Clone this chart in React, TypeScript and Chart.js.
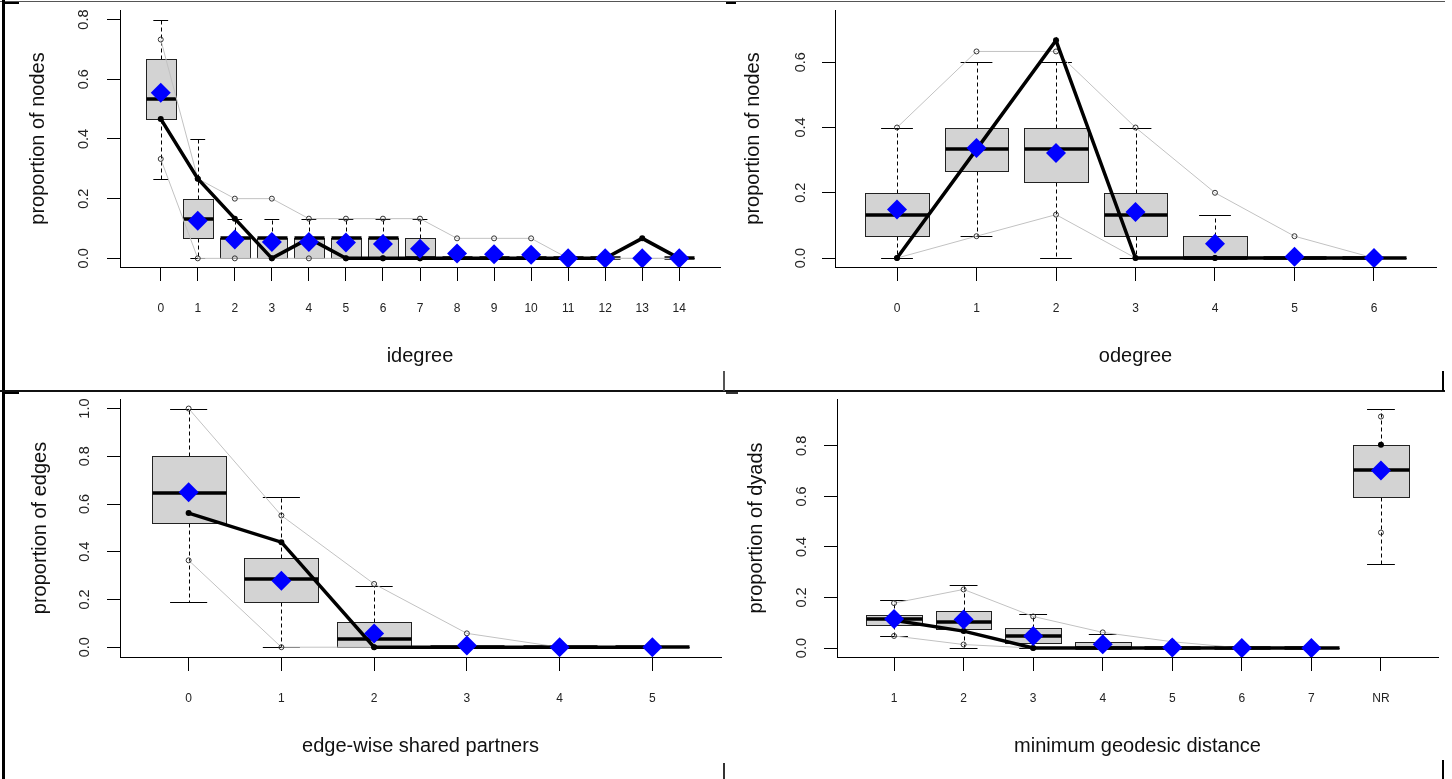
import React, { useEffect, useRef } from 'react';
import { Chart, registerables } from 'chart.js';

Chart.register(...registerables);

const FONT = '"Liberation Sans", Arial, Helvetica, sans-serif';
Chart.defaults.font.family = FONT;

// ---------- idegree ----------
const idegLabels = ['0', '1', '2', '3', '4', '5', '6', '7', '8', '9', '10', '11', '12', '13', '14'];
const idegWhiskerLow = [0.267, 0, 0, 0, 0, 0, 0, 0, 0, 0, 0, 0, 0, 0, 0];
const idegQ1 = [0.467, 0.067, 0, 0, 0, 0, 0, 0, 0, 0, 0, 0, 0, 0, 0];
const idegMedian = [0.533, 0.133, 0.067, 0.067, 0.067, 0.067, 0.067, 0, 0, 0, 0, 0, 0, null, 0];
const idegQ3 = [0.667, 0.2, 0.067, 0.067, 0.067, 0.067, 0.067, 0.067, 0, 0, 0, 0, 0, 0, 0];
const idegWhiskerHigh = [0.8, 0.4, 0.133, 0.133, 0.133, 0.133, 0.133, 0.133, 0, 0, 0, 0, 0, 0, 0];
const idegMean = [0.555, 0.126, 0.063, 0.055, 0.055, 0.053, 0.048, 0.032, 0.016, 0.014, 0.012, 0, 0, 0, 0];
const idegObserved = [0.467, 0.267, 0.133, 0, 0.067, 0, 0, 0, 0, 0, 0, 0, 0, 0.067, 0];
const idegSimHigh = [0.733, 0.267, 0.2, 0.2, 0.133, 0.133, 0.133, 0.133, 0.067, 0.067, 0.067, 0, 0, 0, 0];
const idegSimLow = [0.333, 0, 0, 0, 0, 0, 0, 0, 0, 0, 0, 0, 0, 0, 0];
const idegYTicks = [0, 0.2, 0.4, 0.6, 0.8];

// ---------- odegree ----------
const odegLabels = ['0', '1', '2', '3', '4', '5', '6'];
const odegWhiskerLow = [0, 0.067, 0, 0, 0, 0, 0];
const odegQ1 = [0.067, 0.267, 0.233, 0.067, 0, 0, 0];
const odegMedian = [0.133, 0.333, 0.333, 0.133, 0, 0, 0];
const odegQ3 = [0.2, 0.4, 0.4, 0.2, 0.067, 0, 0];
const odegWhiskerHigh = [0.4, 0.6, 0.6, 0.4, 0.133, 0, 0];
const odegMean = [0.149, 0.337, 0.322, 0.141, 0.044, 0.004, 0];
const odegObserved = [0, 0.333, 0.667, 0, 0, 0, 0];
const odegSimHigh = [0.4, 0.633, 0.633, 0.4, 0.2, 0.067, 0];
const odegSimLow = [0, 0.067, 0.133, 0, 0, 0, 0];
const odegYTicks = [0, 0.2, 0.4, 0.6];

// ---------- edge-wise shared partners ----------
const espLabels = ['0', '1', '2', '3', '4', '5'];
const espWhiskerLow = [0.189, 0, 0, 0, 0, 0];
const espQ1 = [0.519, 0.19, 0, 0, 0, 0];
const espMedian = [0.646, 0.287, 0.036, 0, 0, 0];
const espQ3 = [0.8, 0.373, 0.105, 0, 0, 0];
const espWhiskerHigh = [1.0, 0.63, 0.256, 0, 0, 0];
const espMean = [0.649, 0.279, 0.057, 0.007, 0, 0];
const espObserved = [0.562, 0.44, 0, 0, 0, 0];
const espSimHigh = [1.0, 0.552, 0.265, 0.058, 0, 0];
const espSimLow = [0.364, 0, 0, 0, 0, 0];
const espYTicks = [0, 0.2, 0.4, 0.6, 0.8, 1.0];

// ---------- minimum geodesic distance ----------
const distLabels = ['1', '2', '3', '4', '5', '6', '7', 'NR'];
const distWhiskerLow = [0.048, 0, 0, 0, 0, 0, 0, 0.334];
const distQ1 = [0.093, 0.074, 0.019, 0, 0, 0, 0, 0.597];
const distMedian = [0.114, 0.105, 0.048, 0, 0, 0, 0, 0.705];
const distQ3 = [0.131, 0.146, 0.08, 0.023, 0, 0, 0, 0.804];
const distWhiskerHigh = [0.19, 0.251, 0.135, 0.055, 0, 0, 0, 0.944];
const distMean = [0.115, 0.113, 0.048, 0.015, 0.002, 0, 0, 0.703];
const distObserved = [0.11, 0.067, 0, 0, 0, 0, 0, 0.804];
const distSimHigh = [0.178, 0.232, 0.125, 0.062, 0.025, 0, 0, 0.916];
const distSimLow = [0.048, 0.014, 0, 0, 0, 0, 0, 0.457];
const distYTicks = [0, 0.2, 0.4, 0.6, 0.8];

type PanelCfg = {
  labels: string[];
  wLo: number[]; q1: number[]; med: (number | null)[]; q3: number[]; wHi: number[];
  mean: number[]; obs: number[]; simHi: number[]; simLo: number[];
  yTicks: number[];
  xTitle: string; yTitle: string;
  xMin: number; xMax: number; yMin: number; yMax: number;
  left: number; top: number; width: number; height: number;
  yAxisW: number; xAxisH: number; yTitlePad: number; yTickPad: number;
  breakBefore: number | null;
};

const panels: PanelCfg[] = [
  {
    labels: idegLabels, wLo: idegWhiskerLow, q1: idegQ1, med: idegMedian, q3: idegQ3, wHi: idegWhiskerHigh,
    mean: idegMean, obs: idegObserved, simHi: idegSimHigh, simLo: idegSimLow, yTicks: idegYTicks,
    xTitle: 'idegree', yTitle: 'proportion of nodes',
    xMin: -1.1, xMax: 15.1, yMin: -0.029, yMax: 0.832,
    left: 6, top: 0, width: 724, height: 379, yAxisW: 114, xAxisH: 112, yTitlePad: 20, yTickPad: 13,
    breakBefore: null,
  },
  {
    labels: odegLabels, wLo: odegWhiskerLow, q1: odegQ1, med: odegMedian, q3: odegQ3, wHi: odegWhiskerHigh,
    mean: odegMean, obs: odegObserved, simHi: odegSimHigh, simLo: odegSimLow, yTicks: odegYTicks,
    xTitle: 'odegree', yTitle: 'proportion of nodes',
    xMin: -0.78, xMax: 6.78, yMin: -0.0274, yMax: 0.760,
    left: 727, top: 0, width: 719, height: 379, yAxisW: 108, xAxisH: 112, yTitlePad: 14, yTickPad: 11,
    breakBefore: null,
  },
  {
    labels: espLabels, wLo: espWhiskerLow, q1: espQ1, med: espMedian, q3: espQ3, wHi: espWhiskerHigh,
    mean: espMean, obs: espObserved, simHi: espSimHigh, simLo: espSimLow, yTicks: espYTicks,
    xTitle: 'edge-wise shared partners', yTitle: 'proportion of edges',
    xMin: -0.74, xMax: 5.74, yMin: -0.041, yMax: 1.04,
    left: 6, top: 389, width: 725, height: 380, yAxisW: 114, xAxisH: 112, yTitlePad: 22, yTickPad: 12,
    breakBefore: null,
  },
  {
    labels: distLabels, wLo: distWhiskerLow, q1: distQ1, med: distMedian, q3: distQ3, wHi: distWhiskerHigh,
    mean: distMean, obs: distObserved, simHi: distSimHigh, simLo: distSimLow, yTicks: distYTicks,
    xTitle: 'minimum geodesic distance', yTitle: 'proportion of dyads',
    xMin: -0.82, xMax: 7.82, yMin: -0.0354, yMax: 0.9855,
    left: 727, top: 389, width: 721, height: 380, yAxisW: 110, xAxisH: 112, yTitlePad: 17, yTickPad: 12,
    breakBefore: 7,
  },
];

function makeBoxPlugin(cfg: PanelCfg) {
  return {
    id: 'boxplots',
    beforeDatasetsDraw(chart: any) {
      const { ctx, scales } = chart;
      const x = scales.x;
      const y = scales.y;
      const line = (x1: number, y1: number, x2: number, y2: number) => {
        ctx.beginPath();
        ctx.moveTo(x1, y1);
        ctx.lineTo(x2, y2);
        ctx.stroke();
      };
      const a = (v: number) => Math.round(v) + 0.5;
      ctx.save();
      cfg.q1.forEach((_, i) => {
        const cx = a(x.getPixelForValue(i));
        const xl = a(x.getPixelForValue(i - 0.4));
        const xr = a(x.getPixelForValue(i + 0.4));
        const sl = x.getPixelForValue(i - 0.2);
        const sr = x.getPixelForValue(i + 0.2);
        const pLo = a(y.getPixelForValue(cfg.wLo[i]));
        const pQ1 = a(y.getPixelForValue(cfg.q1[i]));
        const pQ3 = a(y.getPixelForValue(cfg.q3[i]));
        const pHi = a(y.getPixelForValue(cfg.wHi[i]));
        ctx.strokeStyle = '#000';
        ctx.lineWidth = 1;
        ctx.setLineDash([4, 3]);
        line(cx, pQ3, cx, pHi);
        line(cx, pQ1, cx, pLo);
        ctx.setLineDash([]);
        line(sl, pHi, sr, pHi);
        line(sl, pLo, sr, pLo);
        ctx.fillStyle = '#d3d3d3';
        ctx.fillRect(xl, pQ3, xr - xl, pQ1 - pQ3);
        ctx.strokeStyle = '#222';
        ctx.strokeRect(xl, pQ3, xr - xl, pQ1 - pQ3);
        const m = cfg.med[i];
        if (m !== null && m !== undefined) {
          const pm = Math.round(y.getPixelForValue(m));
          ctx.strokeStyle = '#000';
          ctx.lineWidth = 3.5;
          ctx.lineCap = 'butt';
          line(xl, pm, xr, pm);
        }
      });
      ctx.restore();
    },
  };
}

const pts = (vals: number[]) => vals.map((v, i) => ({ x: i, y: v }));

function Panel({ cfg }: { cfg: PanelCfg }) {
  const ref = useRef<HTMLCanvasElement>(null);
  useEffect(() => {
    if (!ref.current) return;
    const hide = (c: any) =>
      cfg.breakBefore !== null && c.p1DataIndex === cfg.breakBefore ? 'rgba(0,0,0,0)' : undefined;
    const chart = new Chart(ref.current, {
      type: 'line',
      data: {
        datasets: [
          {
            label: 'mean',
            data: pts(cfg.mean),
            showLine: false,
            pointStyle: 'rectRot',
            pointRadius: 10,
            pointBackgroundColor: '#0000ff',
            pointBorderColor: '#0000ff',
            pointBorderWidth: 0,
          },
          {
            label: 'observed',
            data: pts(cfg.obs),
            borderColor: '#000',
            borderWidth: 3.5,
            tension: 0,
            pointRadius: 3,
            pointBackgroundColor: '#000',
            pointBorderWidth: 0,
            segment: { borderColor: hide },
          },
          {
            label: 'sim high',
            data: pts(cfg.simHi),
            borderColor: '#c2c2c2',
            borderWidth: 1,
            tension: 0,
            pointRadius: 2.5,
            pointBackgroundColor: 'rgba(0,0,0,0)',
            pointBorderColor: '#333',
            pointBorderWidth: 1,
            segment: { borderColor: hide },
          },
          {
            label: 'sim low',
            data: pts(cfg.simLo),
            borderColor: '#c2c2c2',
            borderWidth: 1,
            tension: 0,
            pointRadius: 2.5,
            pointBackgroundColor: 'rgba(0,0,0,0)',
            pointBorderColor: '#333',
            pointBorderWidth: 1,
            segment: { borderColor: hide },
          },
        ] as any,
      },
      options: {
        animation: false,
        responsive: false,
        devicePixelRatio: 1,
        events: [],
        layout: { padding: 0 },
        plugins: { legend: { display: false }, tooltip: { enabled: false } },
        scales: {
          x: {
            type: 'linear',
            min: cfg.xMin,
            max: cfg.xMax,
            afterBuildTicks: (s: any) => {
              s.ticks = cfg.labels.map((_, i) => ({ value: i }));
            },
            afterFit: (s: any) => {
              s.height = cfg.xAxisH;
              s.paddingLeft = 0;
              s.paddingRight = 0;
            },
            ticks: {
              autoSkip: false,
              minRotation: 0,
              maxRotation: 0,
              padding: 20,
              color: '#222',
              font: { family: FONT, size: 12 },
              callback: (v: any) => cfg.labels[Math.round(Number(v))] ?? '',
            },
            grid: {
              drawOnChartArea: false,
              drawTicks: true,
              tickLength: 14,
              color: '#000',
              tickColor: '#000',
              lineWidth: 1,
            },
            border: { display: true, color: '#000', width: 1 },
            title: {
              display: true,
              text: cfg.xTitle,
              color: '#111',
              font: { family: FONT, size: 20 },
              padding: { top: 0, bottom: 11 },
            },
          },
          y: {
            type: 'linear',
            min: cfg.yMin,
            max: cfg.yMax,
            afterBuildTicks: (s: any) => {
              s.ticks = cfg.yTicks.map((v) => ({ value: v }));
            },
            afterFit: (s: any) => {
              s.width = cfg.yAxisW;
              s.paddingTop = 0;
              s.paddingBottom = 0;
            },
            ticks: {
              minRotation: 90,
              maxRotation: 90,
              crossAlign: 'center',
              padding: cfg.yTickPad,
              color: '#222',
              font: { family: FONT, size: 14.5 },
              callback: (v: any) => Number(v).toFixed(1),
            },
            grid: {
              drawOnChartArea: false,
              drawTicks: true,
              tickLength: 13,
              color: '#000',
              tickColor: '#000',
              lineWidth: 1,
            },
            border: { display: true, color: '#000', width: 1 },
            title: {
              display: true,
              text: cfg.yTitle,
              color: '#111',
              font: { family: FONT, size: 20 },
              padding: { top: cfg.yTitlePad, bottom: 0 },
            },
          },
        },
      } as any,
      plugins: [makeBoxPlugin(cfg)],
    });
    return () => chart.destroy();
  }, [cfg]);
  return (
    <canvas
      ref={ref}
      width={cfg.width}
      height={cfg.height}
      style={{ position: 'absolute', left: cfg.left, top: cfg.top, width: cfg.width, height: cfg.height }}
    />
  );
}

const frameStyle = (left: number, top: number, width: number, height: number, bg: string): React.CSSProperties => ({
  position: 'absolute', left, top, width, height, background: bg, zIndex: 2,
});

export default function App() {
  return (
    <div
      style={{
        position: 'fixed', left: 0, top: 0, width: 1452, height: 779,
        background: '#fff', overflow: 'hidden', fontFamily: FONT,
      }}
    >
      {panels.map((p, i) => (
        <Panel key={i} cfg={p} />
      ))}
      {/* window frame remnants */}
      <div style={frameStyle(0, 1, 1445, 1, '#555')} />
      <div style={frameStyle(2, 2, 17, 2, '#000')} />
      <div style={frameStyle(2, 0, 3, 779, '#000')} />
      <div style={frameStyle(0, 390, 1445, 2, '#111')} />
      <div style={frameStyle(5, 392, 14, 2, '#000')} />
      <div style={frameStyle(723, 371, 2, 20, '#555')} />
      <div style={frameStyle(726, 392, 12, 2, '#333')} />
      <div style={frameStyle(726, 2, 10, 2, '#000')} />
      <div style={frameStyle(1442, 371, 2, 20, '#000')} />
      <div style={frameStyle(723, 763, 2, 16, '#333')} />
      <div style={frameStyle(1442, 760, 2, 19, '#000')} />
    </div>
  );
}
